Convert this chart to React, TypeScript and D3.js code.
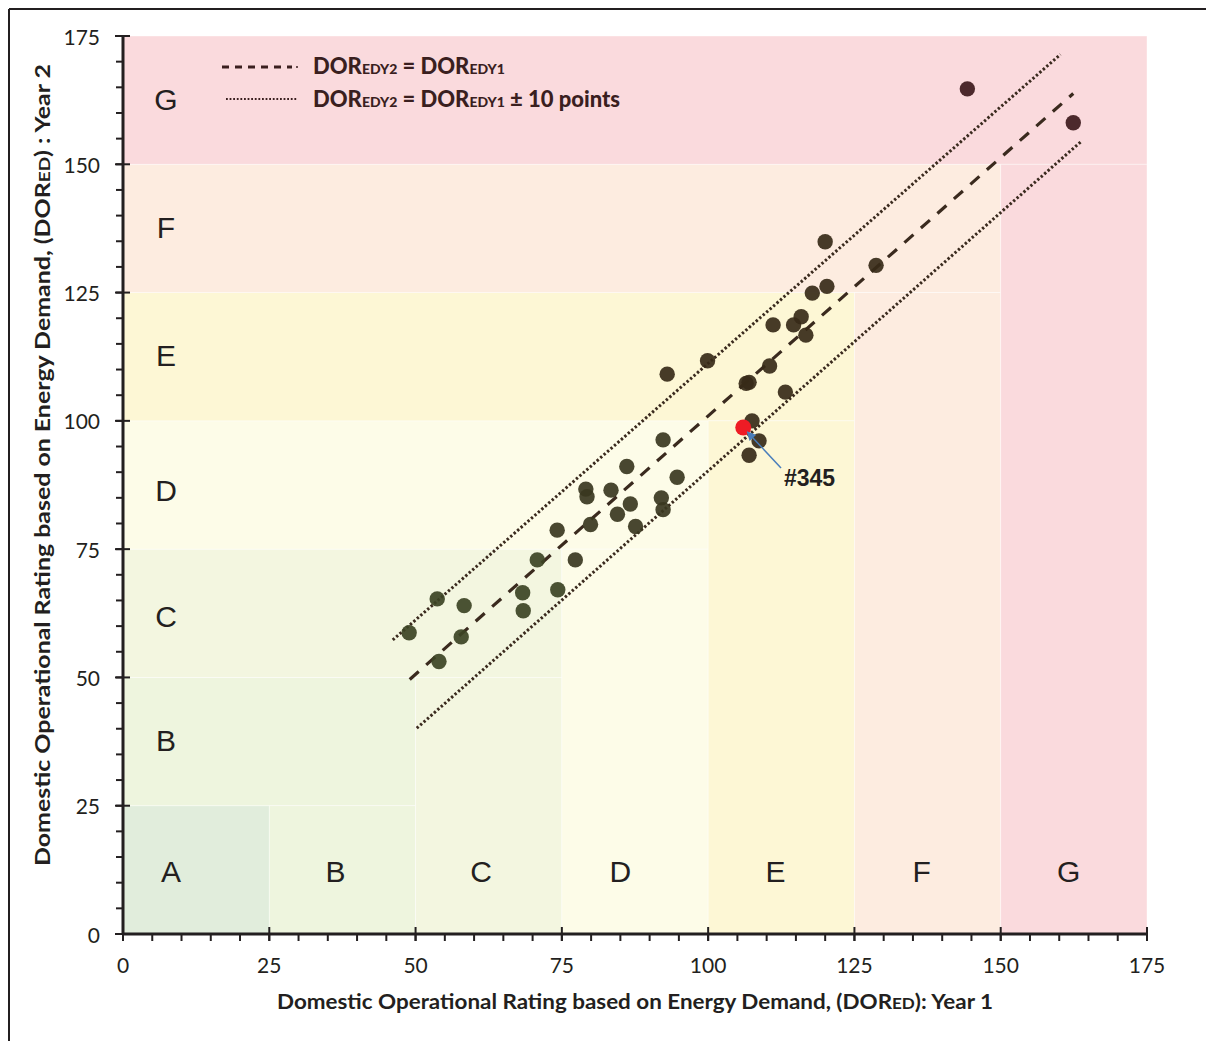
import React from "react";
import * as d3 from "d3";

// ---------- data ----------
const grades = ["A", "B", "C", "D", "E", "F", "G"];
const gradeLower = [0, 25, 50, 75, 100, 125, 150];
const gradeUpper = [25, 50, 75, 100, 125, 150, 175];
const gradeColors = ["#e1eddc", "#eef5de", "#f3f6e0", "#fdfce8", "#fdf7d5", "#fdece0", "#fadadd"];

// grade letter annotations (data coordinates)
const leftLabelGrades = ["B", "C", "D", "E", "F", "G"];
const leftLabelY = [37.7, 61.9, 86.4, 112.7, 137.6, 162.7];
const bottomLabelGrades = ["A", "B", "C", "D", "E", "F", "G"];
const bottomLabelX = [8.2, 36.3, 61.2, 85.0, 111.5, 136.5, 161.6];

const year1 = [48.9, 53.7, 54.0, 58.3, 57.8, 68.3, 68.4, 70.8, 74.3, 77.3, 74.2, 79.9, 79.1, 79.3, 83.4, 84.5, 86.7, 86.1, 87.6, 92.3, 94.7, 92.0, 92.3, 93.0, 99.9, 120.0, 128.7, 120.3, 117.8, 111.1, 115.9, 114.6, 116.7, 110.5, 106.5, 107.0, 113.2, 107.5, 108.7, 107.0, 144.3, 162.4];
const year2 = [58.7, 65.3, 53.1, 64.0, 57.9, 66.5, 63.0, 72.9, 67.1, 72.9, 78.7, 79.8, 86.7, 85.2, 86.5, 81.8, 83.8, 91.1, 79.4, 96.3, 89.0, 85.0, 82.7, 109.1, 111.7, 134.9, 130.3, 126.2, 124.9, 118.7, 120.3, 118.7, 116.7, 110.7, 107.3, 107.5, 105.6, 100.0, 96.1, 93.3, 164.7, 158.1];

const highlight = { id: "#345", x: 106.0, y: 98.7 };

// reference lines (endpoints as drawn)
const equalLine = [[49.0, 49.6], [162.4, 163.8]];
const upperLine = [[46.1, 57.3], [160.2, 171.4]];
const lowerLine = [[50.2, 40.1], [163.9, 154.6]];

const tickValues = [0, 25, 50, 75, 100, 125, 150, 175];
const minorTicks = d3.range(0, 176, 5);

// ---------- layout ----------
const W = 1206, H = 1041;
const x = d3.scaleLinear().domain([0, 175]).range([123, 1147]);
const y = d3.scaleLinear().domain([0, 175]).range([934, 36]);

const INK = "#231f20";
const FONT = "Lato, 'Open Sans', sans-serif";
const ptColors = ["#3c4324", "#3c4324", "#3c4324", "#39371f", "#372a18", "#372a18", "#3d1a1c"];

function gradeIndex(v: number) {
  for (let i = 0; i < gradeUpper.length; i++) if (v < gradeUpper[i]) return i;
  return gradeUpper.length - 1;
}

export default function App() {
  const line = d3.line<number[]>().x((d) => x(d[0])).y((d) => y(d[1]));
  const arrowStart = [781, 468];
  const hx = x(highlight.x), hy = y(highlight.y);
  const ang = Math.atan2(hy - arrowStart[1], hx - arrowStart[0]);
  const tipX = hx + 6 * Math.cos(ang + Math.PI);
  const tipY = hy + 6 * Math.sin(ang + Math.PI);

  return (
    <div style={{ position: "absolute", left: 0, top: 0 }}>
      <svg width={W} height={H} style={{ display: "block", background: "#fff" }}>
        {/* frame */}
        <line x1={9} y1={9} x2={W} y2={9} stroke={INK} strokeWidth={2} />
        <line x1={9} y1={9} x2={9} y2={H} stroke={INK} strokeWidth={2} />

        {/* grade bands */}
        {grades.map((g, i) => {
          const lo = gradeLower[i], hi = gradeUpper[i];
          return (
            <g key={g}>
              <rect x={x(0)} y={y(hi)} width={x(hi) - x(0)} height={y(lo) - y(hi)} fill={gradeColors[i]} stroke="#ffffff" strokeOpacity={0.5} strokeWidth={0.8} />
              {lo > 0 && (
                <rect x={x(lo)} y={y(lo)} width={x(hi) - x(lo)} height={y(0) - y(lo)} fill={gradeColors[i]} stroke="#ffffff" strokeOpacity={0.5} strokeWidth={0.8} />
              )}
            </g>
          );
        })}

        {/* grade labels */}
        {leftLabelGrades.map((g, i) => (
          <text key={"l" + g} x={x(7.35)} y={y(leftLabelY[i])} textAnchor="middle" dominantBaseline="central" fontFamily="'Liberation Sans', Arial, sans-serif" fontSize={30} fill={INK}>{g}</text>
        ))}
        {bottomLabelGrades.map((g, i) => (
          <text key={"b" + g} x={x(bottomLabelX[i])} y={y(12.1)} textAnchor="middle" dominantBaseline="central" fontFamily="'Liberation Sans', Arial, sans-serif" fontSize={30} fill={INK}>{g}</text>
        ))}

        {/* reference lines */}
        <path d={line(upperLine) || ""} stroke="#3a2a1e" strokeWidth={3} strokeDasharray="2.4 2.2" fill="none" />
        <path d={line(lowerLine) || ""} stroke="#3a2a1e" strokeWidth={3} strokeDasharray="2.4 2.2" fill="none" />
        <path d={line(equalLine) || ""} stroke="#3a2a1e" strokeWidth={3.2} strokeDasharray="12 10" fill="none" />

        {/* points */}
        {year1.map((v, i) => (
          <circle key={i} cx={x(v)} cy={y(year2[i])} r={7.7} fill={ptColors[gradeIndex(Math.max(v, year2[i]))]} fillOpacity={0.92} />
        ))}
        <circle cx={hx} cy={hy} r={8} fill="#ee1c25" />

        {/* annotation */}
        <defs>
          <marker id="arr" viewBox="0 0 10 10" refX={9} refY={5} markerWidth={10} markerHeight={9} orient="auto" markerUnits="userSpaceOnUse">
            <path d="M0,0 L10,5 L0,10 z" fill="#4a7ebb" />
          </marker>
        </defs>
        <line x1={arrowStart[0]} y1={arrowStart[1]} x2={tipX} y2={tipY} stroke="#4a7ebb" strokeWidth={1.5} markerEnd="url(#arr)" />
        <text x={784} y={486} fontFamily="'Liberation Sans', Arial, sans-serif" fontWeight="bold" fontSize={23} fill={INK}>{highlight.id}</text>

        {/* legend */}
        <line x1={222} y1={67} x2={292} y2={67} stroke="#3a1f1f" strokeWidth={3} strokeDasharray="7 6" />
        <circle cx={297} cy={67} r={1} fill="#3a1f1f" />
        <line x1={226} y1={99} x2={297} y2={99} stroke="#3a1f1f" strokeWidth={2.2} strokeDasharray="1.8 1.8" />
        <text x={313} y={74} fontFamily={FONT} fontWeight={900} fontSize={22} fill="#3a1f1f">
          DOR<tspan fontSize={14}>EDY2</tspan> = DOR<tspan fontSize={14}>EDY1</tspan>
        </text>
        <text x={313} y={107} fontFamily={FONT} fontWeight={900} fontSize={22} fill="#3a1f1f">
          DOR<tspan fontSize={14}>EDY2</tspan> = DOR<tspan fontSize={14}>EDY1</tspan> ± 10 points
        </text>

        {/* axes */}
        <line x1={x(0)} y1={y(0)} x2={x(175)} y2={y(0)} stroke={INK} strokeWidth={3} />
        <line x1={x(0)} y1={y(0)} x2={x(0)} y2={y(175)} stroke={INK} strokeWidth={3} />
        {minorTicks.map((t) => (
          <g key={"m" + t}>
            <line x1={x(t)} x2={x(t)} y1={y(0)} y2={y(0) + 7} stroke={INK} strokeWidth={2} />
            <line x1={x(0) - 7} x2={x(0)} y1={y(t)} y2={y(t)} stroke={INK} strokeWidth={2} />
          </g>
        ))}
        {tickValues.map((t) => (
          <g key={"t" + t}>
            <line x1={x(t)} x2={x(t)} y1={y(0) - 7} y2={y(0) + 7} stroke={INK} strokeWidth={2} />
            <line x1={x(0) - 8} x2={x(0) + 7} y1={y(t)} y2={y(t)} stroke={INK} strokeWidth={2} />
            <text x={x(t)} y={973} textAnchor="middle" fontFamily={FONT} fontSize={21} fill={INK}>{t}</text>
            <text x={100} y={y(t)} textAnchor="end" dominantBaseline="central" fontFamily={FONT} fontSize={21} fill={INK}>{t}</text>
          </g>
        ))}

        {/* axis titles */}
        <text x={635} y={1009} textAnchor="middle" fontFamily={FONT} fontWeight="bold" fontSize={21} textLength={716} lengthAdjust="spacingAndGlyphs" fill={INK}>
          Domestic Operational Rating based on Energy Demand, (DOR<tspan fontSize={16}>ED</tspan>): Year 1
        </text>
        <text transform="translate(50,465) rotate(-90)" textAnchor="middle" fontFamily={FONT} fontWeight="bold" fontSize={21} textLength={802} lengthAdjust="spacingAndGlyphs" fill={INK}>
          Domestic Operational Rating based on Energy Demand, (DOR<tspan fontSize={16}>ED</tspan>) : Year 2
        </text>
      </svg>
    </div>
  );
}
